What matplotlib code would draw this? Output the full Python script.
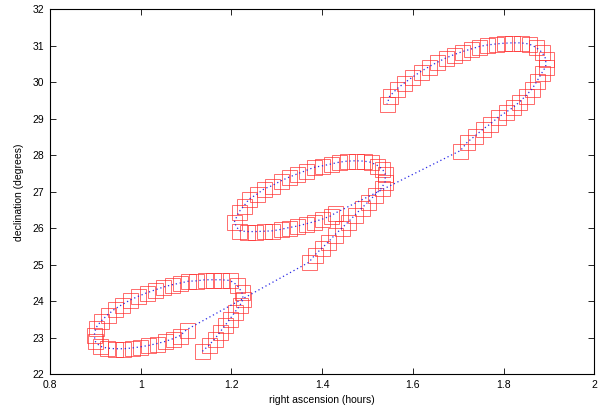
import numpy as np
import matplotlib
matplotlib.use("Agg")
import matplotlib.pyplot as plt
from matplotlib.ticker import FuncFormatter

plt.rcParams['font.family'] = ['Liberation Sans', 'DejaVu Sans']

# observed positions, three observing seasons (RA in hours, Dec in degrees)
ra_1 = [1.136, 1.150, 1.164, 1.175, 1.186, 1.197, 1.208, 1.219, 1.226, 1.223,
        1.212, 1.197, 1.178, 1.160, 1.142, 1.123, 1.105, 1.087, 1.068, 1.050,
        1.031, 1.013, 0.995, 0.976, 0.959, 0.943, 0.927, 0.912, 0.901, 0.898,
        0.899, 0.910, 0.925, 0.943, 0.962, 0.980, 0.998, 1.017, 1.035, 1.054,
        1.072, 1.087, 1.101]
dec_1 = [22.63, 22.79, 22.98, 23.16, 23.34, 23.52, 23.71, 23.89, 24.07, 24.25,
         24.45, 24.57, 24.59, 24.59, 24.59, 24.56, 24.55, 24.50, 24.45, 24.39,
         24.31, 24.23, 24.14, 24.03, 23.91, 23.79, 23.63, 23.45, 23.27, 23.09,
         22.91, 22.77, 22.72, 22.70, 22.70, 22.72, 22.75, 22.79, 22.84, 22.90,
         22.98, 23.06, 23.22]

ra_2 = [1.371, 1.384, 1.399, 1.414, 1.428, 1.443, 1.458, 1.472, 1.487, 1.502,
        1.516, 1.531, 1.539, 1.539, 1.533, 1.522, 1.507, 1.492, 1.474, 1.455,
        1.437, 1.419, 1.400, 1.382, 1.364, 1.345, 1.327, 1.309, 1.290, 1.272,
        1.257, 1.239, 1.228, 1.216, 1.206, 1.217, 1.235, 1.253, 1.272, 1.290,
        1.309, 1.327, 1.345, 1.364, 1.382, 1.400, 1.419, 1.428]
dec_2 = [25.07, 25.27, 25.45, 25.63, 25.82, 26.00, 26.18, 26.36, 26.55, 26.73,
         26.91, 27.10, 27.28, 27.49, 27.62, 27.72, 27.81, 27.84, 27.85, 27.84,
         27.81, 27.76, 27.71, 27.67, 27.58, 27.49, 27.40, 27.30, 27.17, 27.08,
         26.94, 26.80, 26.62, 26.44, 26.16, 25.93, 25.91, 25.91, 25.92, 25.93,
         25.97, 26.02, 26.06, 26.12, 26.18, 26.25, 26.34, 26.41]

ra_3 = [1.705, 1.720, 1.738, 1.755, 1.771, 1.788, 1.805, 1.821, 1.834, 1.849,
        1.863, 1.874, 1.884, 1.893, 1.893, 1.885, 1.871, 1.856, 1.838, 1.819,
        1.801, 1.783, 1.764, 1.746, 1.728, 1.709, 1.691, 1.672, 1.654, 1.636,
        1.617, 1.599, 1.580, 1.564, 1.549, 1.543]
dec_3 = [28.13, 28.36, 28.54, 28.72, 28.86, 29.04, 29.18, 29.31, 29.45, 29.63,
         29.82, 30.04, 30.25, 30.43, 30.64, 30.82, 30.96, 31.05, 31.08, 31.08,
         31.07, 31.05, 31.02, 30.98, 30.91, 30.84, 30.76, 30.66, 30.55, 30.43,
         30.29, 30.14, 29.97, 29.81, 29.62, 29.40]

ra_all = ra_1 + ra_2 + ra_3
dec_all = dec_1 + dec_2 + dec_3

xticks = [0.8, 1.0, 1.2, 1.4, 1.6, 1.8, 2.0]
yticks = list(range(22, 33))

fig = plt.figure(figsize=(6, 4.12), dpi=100)
ax = fig.add_axes([0.0833, 0.0915, 0.9072, 0.886])

# squares
ax.plot(ra_all, dec_all, linestyle='none', marker='s', markersize=10.8,
        markerfacecolor='none', markeredgecolor='#ff2a2a', markeredgewidth=0.6,
        alpha=0.8)
# path
ax.plot(ra_all, dec_all, color='#2a2ae6', linestyle=(0, (1, 2.2)), linewidth=0.9)

ax.set_xlim(0.8, 2.0)
ax.set_ylim(22, 32)
ax.set_xticks(xticks)
ax.set_yticks(yticks)
ax.xaxis.set_major_formatter(FuncFormatter(lambda v, p: f"{v:g}"))
ax.tick_params(direction='in', length=4, width=0.6, labelsize=7.5,
               top=True, right=True, pad=4)
for s in ax.spines.values():
    s.set_linewidth(0.8)

ax.set_xlabel('right ascension (hours)', fontsize=7.5, labelpad=4)
ax.set_ylabel('declination (degrees)', fontsize=7.5, labelpad=6)

fig.savefig('out.png', dpi=100)
